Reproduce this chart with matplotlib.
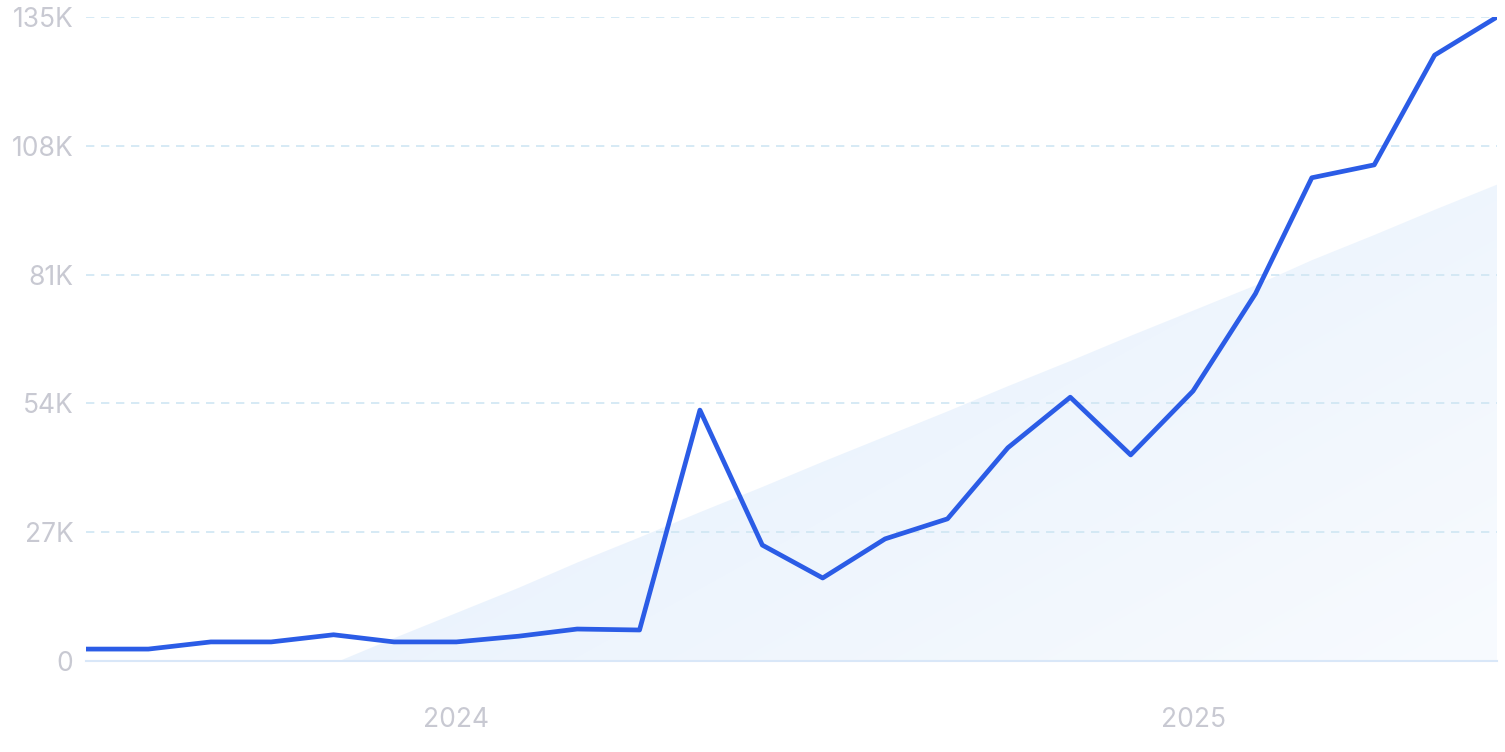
import numpy as np
import pandas as pd
import matplotlib
matplotlib.use("Agg")
import matplotlib.pyplot as plt
import matplotlib.dates as mdates

plt.rcParams['font.family'] = ['Inter', 'DejaVu Sans']

# monthly values (thousands), Jul 2023 - Jun 2025
months = pd.date_range('2023-07-01', periods=24, freq='MS')
values = [2.5, 2.5, 4.0, 4.0, 5.5, 4.0, 4.0, 5.2, 6.7, 6.5, 52.6, 24.3,
          17.4, 25.6, 29.8, 44.7, 55.3, 43.2, 56.6, 77.0, 101.3, 104.0, 127.0, 135.0]
yticks = [0, 27, 54, 81, 108, 135]
ytick_labels = ['0', '27K', '54K', '81K', '108K', '135K']
xtick_dates = ['2024-01-01', '2025-01-01']
xtick_labels = ['2024', '2025']

x = mdates.date2num(months)
y = np.array(values)
idx = np.arange(len(y))
slope, icpt = np.polyfit(idx, y, 1)
trend = slope * idx + icpt

fig = plt.figure(figsize=(15.05, 7.52), dpi=100)
ax = fig.add_axes([86/1505, 1-661/752, (1497-86)/1505, (661-17)/752])

# gradient trend area
poly = ax.fill_between(x, 0, trend, where=trend > 0, interpolate=True,
                       facecolor='none', edgecolor='none')
h, w = 200, 400
gx, gy = np.meshgrid(np.linspace(0, 1, w), np.linspace(0, 1, h))
a = np.clip(1 - 0.55*gx - 0.45*gy, 0, 1)
img = np.zeros((h, w, 4))
img[..., 0] = 0.85
img[..., 1] = 0.91
img[..., 2] = 0.985
img[..., 3] = 0.18 + 0.72 * a
im = ax.imshow(img, extent=[x[0], x[-1], 0, 135], aspect='auto',
               origin='upper', zorder=0.3, interpolation='bilinear')
im.set_clip_path(poly.get_paths()[0], transform=ax.transData)

ax.plot(x, y, color='#2b5ce6', lw=3.4, solid_joinstyle='round',
        solid_capstyle='round', zorder=3)

ax.set_xlim(x[0], x[-1])
ax.set_ylim(0, 135)
ax.set_yticks(yticks)
ax.set_yticklabels(ytick_labels)
ax.set_xticks(mdates.date2num(pd.to_datetime(xtick_dates)))
ax.set_xticklabels(xtick_labels)

ax.yaxis.grid(True, color='#cfe6f3', lw=1.2, linestyle=(0, (5, 4)))
ax.set_axisbelow(True)
for s in ['left', 'right', 'top']:
    ax.spines[s].set_visible(False)
ax.spines['bottom'].set_color('#d9e7f8')
ax.spines['bottom'].set_linewidth(1.5)
ax.spines['bottom'].set_zorder(1)
ax.tick_params(axis='both', length=0, labelsize=19, labelcolor='#c8c9d2')
ax.tick_params(axis='y', pad=9)
ax.tick_params(axis='x', pad=33)

fig.savefig('out.png', dpi=100)
